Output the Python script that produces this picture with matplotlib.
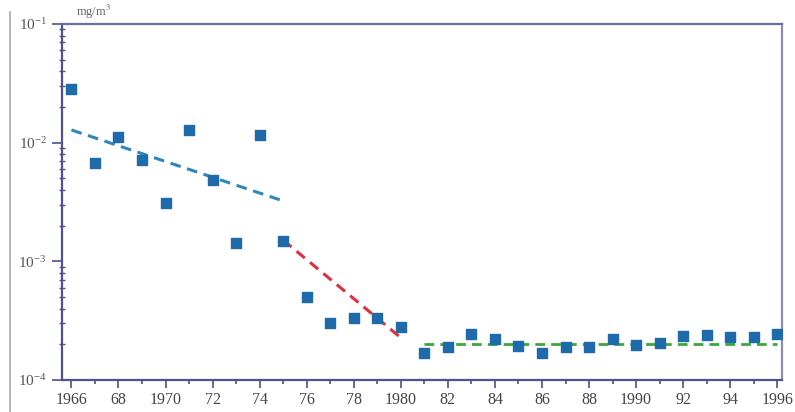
import matplotlib.pyplot as plt
from matplotlib.lines import Line2D
from matplotlib.ticker import FixedLocator, LogLocator, NullFormatter

years = list(range(1966, 1997))
values = [0.0283, 0.00674, 0.0112, 0.00714, 0.0031, 0.0128, 0.00485, 0.00143, 0.0116, 0.00149,
          0.000501, 0.000303, 0.000334, 0.000334, 0.00028,
          0.000169, 0.00019, 0.000244, 0.00022, 0.000193, 0.000169, 0.00019, 0.00019, 0.00022,
          0.000197, 0.000205, 0.000233, 0.000238, 0.000232, 0.000232, 0.000244]

trend1_x = [1966, 1975]
trend1_y = [0.0128, 0.00323]
trend2_x = [1975, 1980]
trend2_y = [0.00151, 0.000227]
trend3_x = [1981, 1996]
trend3_y = [0.000201, 0.000201]

tick_years = list(range(1966, 1997, 2))
tick_labels = ['1966', '68', '1970', '72', '74', '76', '78', '1980',
               '82', '84', '86', '88', '1990', '92', '94', '1996']


def make_graph():
    plt.rcParams['font.family'] = ['Liberation Serif', 'DejaVu Serif']
    plt.rcParams['mathtext.fontset'] = 'stix'
    fig = plt.figure(figsize=(7.95, 4.12), dpi=100)
    ax = fig.add_axes([0.078, 0.0777, 0.9056, 0.864])

    spine_col = '#4c5290'
    ax.plot(trend1_x, trend1_y, '--', color='#2f86b8', lw=2.2, dashes=(3.5, 2.2), zorder=2)
    ax.plot(trend2_x, trend2_y, '--', color='#e03040', lw=2.2, dashes=(3.5, 2.2), zorder=2)
    ax.plot(trend3_x, trend3_y, '--', color='#3aa83a', lw=2.0, dashes=(3.5, 2.2), zorder=2)
    ax.scatter(years, values, marker='s', s=44, color='#1f6aaa', zorder=3)

    ax.set_yscale('log')
    ax.set_ylim(1e-4, 1e-1)
    ax.set_xlim(1965.6, 1996.2)

    ax.xaxis.set_major_locator(FixedLocator(tick_years))
    ax.set_xticklabels(tick_labels)
    ax.xaxis.set_minor_locator(FixedLocator(years))
    ax.tick_params(axis='x', which='both', direction='out', length=6, width=1.2,
                   color=spine_col, labelsize=11.5, labelcolor='#444444', pad=3)
    ax.tick_params(axis='x', which='minor', length=3)

    ax.yaxis.set_major_locator(LogLocator(base=10, numticks=5))
    ax.yaxis.set_minor_locator(LogLocator(base=10, subs=range(2, 10), numticks=20))
    ax.yaxis.set_minor_formatter(NullFormatter())
    ax.tick_params(axis='y', which='major', direction='out', length=7, width=1.2,
                   color=spine_col, labelsize=11, labelcolor='#555555', pad=4)
    ax.tick_params(axis='y', which='minor', direction='inout', length=4, width=1.0, color=spine_col)

    for side in ['left', 'bottom', 'top', 'right']:
        ax.spines[side].set_color(spine_col)
        ax.spines[side].set_linewidth(1.6)
    ax.spines['right'].set_color('#8a8ea8')
    ax.spines['top'].set_color('#6a6ea0')

    fig.text(0.095, 0.972, 'mg/m$^3$', fontsize=9, color='#666666', va='center')
    fig.add_artist(Line2D([0.013, 0.013], [0.0, 0.97], color='#aaaaaa', lw=1.2,
                          transform=fig.transFigure))

    plt.savefig('out.png', dpi=100)


if __name__ == '__main__':
    make_graph()
